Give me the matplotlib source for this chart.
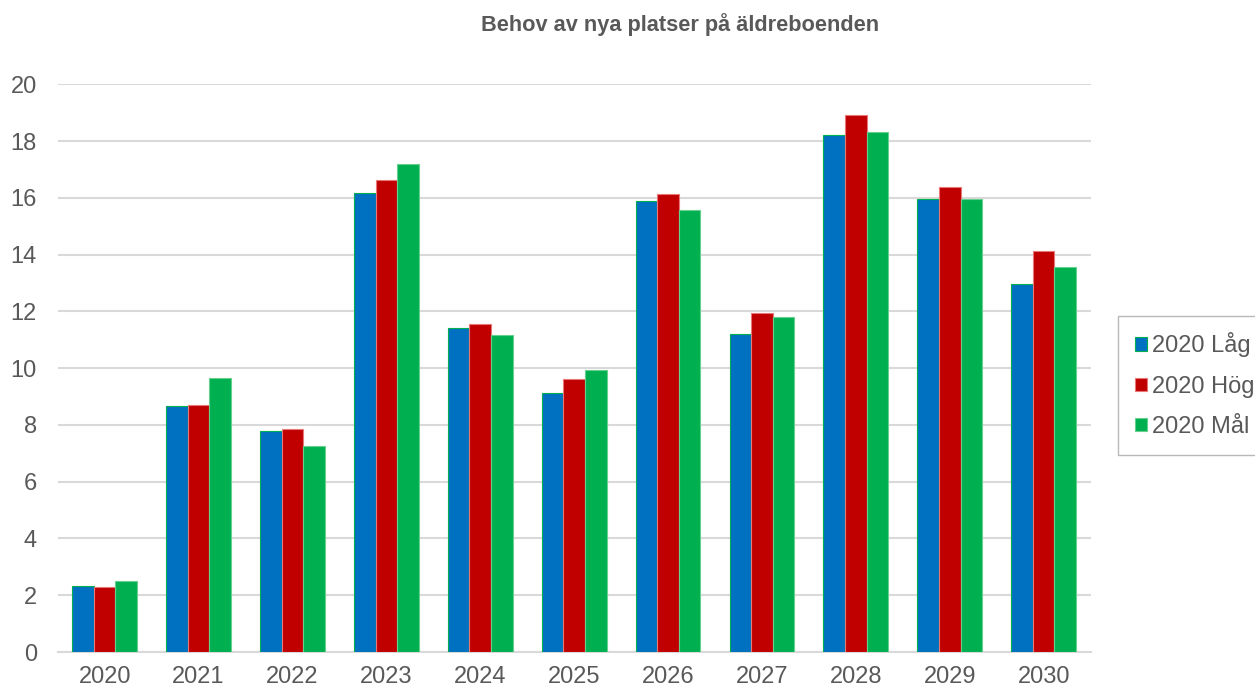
import matplotlib.pyplot as plt
import numpy as np

plt.rcParams['font.family'] = ['Liberation Sans', 'DejaVu Sans']

years = ["2020", "2021", "2022", "2023", "2024", "2025",
         "2026", "2027", "2028", "2029", "2030"]
lag = [2.32, 8.66, 7.78, 16.17, 11.42, 9.12, 15.89, 11.19, 18.21, 15.95, 12.98]
hog = [2.30, 8.69, 7.85, 16.64, 11.55, 9.61, 16.15, 11.95, 18.90, 16.37, 14.13]
mal = [2.49, 9.66, 7.24, 17.18, 11.16, 9.95, 15.56, 11.80, 18.31, 15.95, 13.57]

series = [
    ("2020 Låg", lag, "#0070C0", "#00B050"),
    ("2020 Hög", hog, "#C00000", "#E87878"),
    ("2020 Mål", mal, "#00B050", "#66D08F"),
]

fig = plt.figure(figsize=(12.55, 6.89), dpi=100)
ax = fig.add_axes([0.046, 0.0537, 0.823, 0.824])

x = np.arange(len(years))
w = 0.23
for i, (name, vals, col, edge) in enumerate(series):
    ax.bar(x + (i - 1) * w, vals, w, color=col, edgecolor=edge,
           linewidth=0.8, label=name, zorder=3)

ax.set_xlim(-0.5, len(years) - 0.5)
ax.set_ylim(0, 20)
ax.set_yticks(range(0, 21, 2))
ax.set_xticks(x)
ax.set_xticklabels(years)
ax.grid(axis="y", color="#D9D9D9", linewidth=1.5, zorder=0)
for s in ["top", "right", "left"]:
    ax.spines[s].set_visible(False)
ax.spines["bottom"].set_color("#D9D9D9")
ax.spines["bottom"].set_linewidth(1.5)
ax.tick_params(length=0, labelsize=17, labelcolor="#595959")
ax.tick_params(axis="y", pad=15)
ax.tick_params(axis="x", pad=10)

fig.text(0.542, 0.965, "Behov av nya platser på äldreboenden",
         ha="center", va="center", fontsize=15.7, fontweight="bold",
         color="#595959")

leg = ax.legend(loc="center left", bbox_to_anchor=(1.027, 0.47),
                fontsize=17, frameon=True, fancybox=False,
                edgecolor="#A6A6A6", handlelength=0.5, handleheight=0.5,
                handletextpad=0.2, labelspacing=0.78, borderpad=0.7,
                borderaxespad=0)
for t in leg.get_texts():
    t.set_color("#595959")

plt.savefig("out.png", dpi=100)
